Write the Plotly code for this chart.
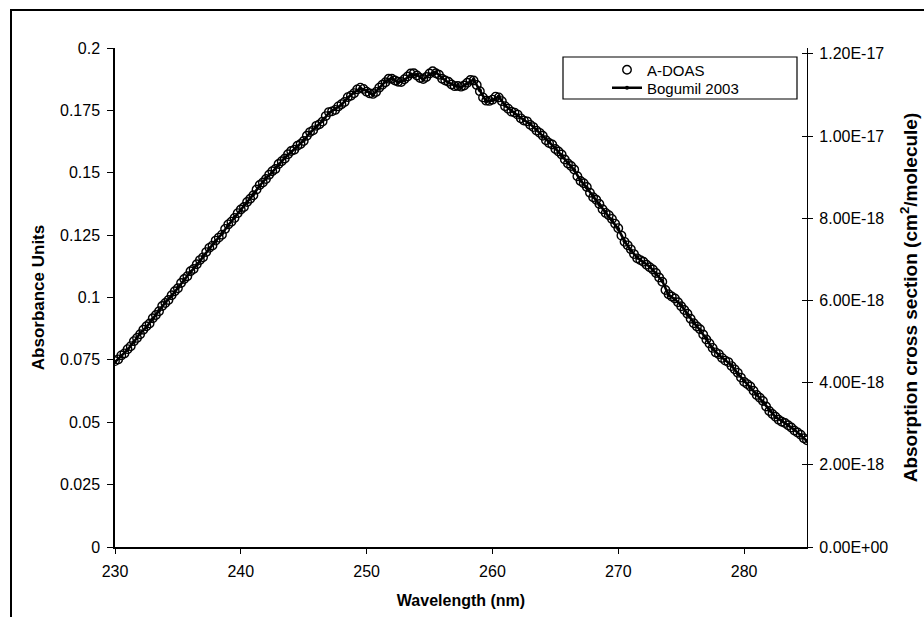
import numpy as np
import plotly.graph_objects as go

# A-DOAS measured absorbance, sampled every 0.25 nm from 230 to 285 nm
ADOAS_START, ADOAS_STEP = 230.0, 0.25
adoas_absorbance = [
    0.0745, 0.0752, 0.0768, 0.0776, 0.0793, 0.0805, 0.0825, 0.0838, 0.0853, 0.0871,
    0.0885, 0.0896, 0.0917, 0.0930, 0.0945, 0.0966, 0.0978, 0.0990, 0.1009, 0.1025,
    0.1037, 0.1058, 0.1074, 0.1085, 0.1105, 0.1114, 0.1133, 0.1150, 0.1161, 0.1182,
    0.1199, 0.1208, 0.1228, 0.1240, 0.1252, 0.1275, 0.1293, 0.1304, 0.1319, 0.1338,
    0.1353, 0.1363, 0.1383, 0.1396, 0.1410, 0.1433, 0.1451, 0.1461, 0.1475, 0.1492,
    0.1506, 0.1515, 0.1535, 0.1546, 0.1557, 0.1574, 0.1587, 0.1592, 0.1608, 0.1615,
    0.1627, 0.1648, 0.1663, 0.1670, 0.1688, 0.1694, 0.1705, 0.1727, 0.1743, 0.1746,
    0.1752, 0.1766, 0.1775, 0.1784, 0.1803, 0.1809, 0.1819, 0.1834, 0.1841, 0.1836,
    0.1825, 0.1818, 0.1816, 0.1824, 0.1841, 0.1853, 0.1863, 0.1877, 0.1877, 0.1870,
    0.1865, 0.1864, 0.1875, 0.1886, 0.1898, 0.1899, 0.1890, 0.1880, 0.1876, 0.1884,
    0.1898, 0.1907, 0.1899, 0.1893, 0.1877, 0.1870, 0.1865, 0.1854, 0.1847, 0.1848,
    0.1845, 0.1850, 0.1861, 0.1872, 0.1870, 0.1852, 0.1827, 0.1802, 0.1789, 0.1788,
    0.1793, 0.1805, 0.1802, 0.1787, 0.1767, 0.1757, 0.1745, 0.1741, 0.1733, 0.1718,
    0.1709, 0.1706, 0.1692, 0.1683, 0.1669, 0.1660, 0.1648, 0.1630, 0.1619, 0.1613,
    0.1595, 0.1585, 0.1573, 0.1553, 0.1537, 0.1527, 0.1513, 0.1486, 0.1467, 0.1458,
    0.1443, 0.1420, 0.1402, 0.1392, 0.1375, 0.1354, 0.1339, 0.1330, 0.1315, 0.1296,
    0.1278, 0.1248, 0.1223, 0.1209, 0.1193, 0.1174, 0.1157, 0.1150, 0.1143, 0.1131,
    0.1121, 0.1112, 0.1098, 0.1080, 0.1063, 0.1030, 0.1013, 0.1004, 0.0996, 0.0981,
    0.0965, 0.0950, 0.0935, 0.0915, 0.0897, 0.0884, 0.0873, 0.0852, 0.0832, 0.0816,
    0.0798, 0.0780, 0.0773, 0.0758, 0.0747, 0.0741, 0.0725, 0.0712, 0.0698, 0.0679,
    0.0662, 0.0653, 0.0643, 0.0626, 0.0609, 0.0598, 0.0585, 0.0563, 0.0545, 0.0533,
    0.0522, 0.0510, 0.0502, 0.0497, 0.0488, 0.0479, 0.0467, 0.0459, 0.0450, 0.0436,
    0.0428,
]

# Bogumil et al. (2003) reference cross section, in units of 1e-18 cm^2/molecule, every 0.5 nm
BOGUMIL_START, BOGUMIL_STEP = 230.0, 0.5
bogumil_xsec_1e18 = [
    4.50, 4.64, 4.80, 4.99, 5.20, 5.35, 5.55, 5.75, 5.95, 6.11,
    6.31, 6.51, 6.69, 6.86, 7.07, 7.26, 7.44, 7.62, 7.83, 8.02,
    8.19, 8.38, 8.58, 8.79, 8.97, 9.12, 9.30, 9.47, 9.61, 9.74,
    9.89, 10.08, 10.23, 10.37, 10.56, 10.65, 10.76, 10.93, 11.06, 11.16,
    11.10, 11.00, 11.16, 11.33, 11.41, 11.30, 11.36, 11.50, 11.49, 11.37,
    11.50, 11.55, 11.41, 11.30, 11.23, 11.18, 11.28, 11.37, 11.11, 10.84,
    10.87, 10.96, 10.74, 10.61, 10.50, 10.39, 10.29, 10.15, 9.99, 9.85,
    9.70, 9.53, 9.35, 9.17, 8.92, 8.74, 8.53, 8.33, 8.15, 7.96,
    7.74, 7.44, 7.22, 7.04, 6.92, 6.82, 6.65, 6.47, 6.13, 6.03,
    5.88, 5.66, 5.46, 5.28, 5.07, 4.83, 4.67, 4.55, 4.42, 4.22,
    4.04, 3.88, 3.71, 3.53, 3.33, 3.16, 3.07, 2.97, 2.85, 2.72,
    2.58,
]

# Axis ticks
x_ticks = [230, 240, 250, 260, 270, 280]
left_ticks = [0, 0.025, 0.05, 0.075, 0.1, 0.125, 0.15, 0.175, 0.2]
left_tick_text = ["0", "0.025", "0.05", "0.075", "0.1", "0.125", "0.15", "0.175", "0.2"]
right_ticks = [0, 2e-18, 4e-18, 6e-18, 8e-18, 1e-17, 1.2e-17]
right_tick_text = ["0.00E+00", "2.00E-18", "4.00E-18", "6.00E-18", "8.00E-18", "1.00E-17", "1.20E-17"]

X_RANGE = [230, 285]
LEFT_RANGE = [0, 0.2]
RIGHT_RANGE = [0, 1.2141e-17]

adoas_wl = ADOAS_START + ADOAS_STEP * np.arange(len(adoas_absorbance))
bogumil_wl = BOGUMIL_START + BOGUMIL_STEP * np.arange(len(bogumil_xsec_1e18))
bogumil_xsec = np.array(bogumil_xsec_1e18) * 1e-18

FONT = "Liberation Sans, Arial, sans-serif"

# plot area in pixels (for placing the legend frame and outer border)
L, R, T, B = 115, 807, 48, 547
PW, PH = R - L, B - T


def px_x(x):
    return (x - L) / PW


def px_y(y):
    return (B - y) / PH


fig = go.Figure()
fig.add_trace(go.Scatter(
    x=adoas_wl, y=adoas_absorbance, mode="markers", name="A-DOAS",
    marker=dict(symbol="circle-open", size=8.5, color="black",
                line=dict(color="black", width=1.4)),
    yaxis="y", legend="legend",
))
fig.add_trace(go.Scatter(
    x=bogumil_wl, y=bogumil_xsec, mode="lines+markers", name="Bogumil 2003",
    line=dict(color="black", width=2.6),
    marker=dict(symbol="circle", size=4, color="black"),
    yaxis="y2", legend="legend2",
))
# carries the inner half of the crossing tick marks on the right axis
fig.add_trace(go.Scatter(x=[None], y=[None], yaxis="y3", showlegend=False, hoverinfo="skip"))

legend_common = dict(xanchor="left", yanchor="middle", bgcolor="rgba(0,0,0,0)",
                     borderwidth=0, font=dict(size=15), itemwidth=30)

fig.update_layout(
    width=924, height=617,
    margin=dict(l=L, r=924 - R, t=T, b=617 - B, autoexpand=False),
    paper_bgcolor="white", plot_bgcolor="white",
    font=dict(family=FONT, size=16, color="black"),
    showlegend=True,
    legend=dict(x=px_x(607), y=px_y(70), **legend_common),
    legend2=dict(x=px_x(607), y=px_y(88), **legend_common),
    xaxis=dict(
        range=X_RANGE, tickvals=x_ticks, ticks="outside", ticklen=5,
        tickcolor="black", showline=True, linecolor="black", linewidth=2,
        showgrid=False, zeroline=False, ticklabelstandoff=4, automargin=False,
        title=dict(text="<b>Wavelength (nm)</b>", font=dict(size=16), standoff=16),
    ),
    yaxis=dict(
        range=LEFT_RANGE, tickvals=left_ticks, ticktext=left_tick_text,
        ticks="outside", ticklen=6, tickcolor="black",
        showline=True, linecolor="black", linewidth=1.5,
        showgrid=False, zeroline=False, ticklabelstandoff=4, automargin=False,
        title=dict(text="<b>Absorbance Units</b>", font=dict(size=17), standoff=11),
    ),
    yaxis2=dict(
        range=RIGHT_RANGE, tickvals=right_ticks, ticktext=right_tick_text,
        overlaying="y", side="right", anchor="x",
        ticks="outside", ticklen=5, tickcolor="black",
        showline=True, linecolor="black", linewidth=1.2,
        showgrid=False, zeroline=False, ticklabelstandoff=3, automargin=False,
        title=dict(text="<b>Absorption cross section (cm<sup>2</sup>/molecule)</b>",
                   font=dict(size=19), standoff=16),
    ),
    yaxis3=dict(
        range=RIGHT_RANGE, tickvals=right_ticks, overlaying="y", side="right",
        anchor="x", ticks="inside", ticklen=5, tickcolor="black", automargin=False,
        showticklabels=False, showline=False, showgrid=False, zeroline=False,
    ),
)

# legend frame
fig.add_shape(type="rect", xref="paper", yref="paper",
              x0=px_x(563), x1=px_x(797), y0=px_y(99), y1=px_y(57),
              line=dict(color="black", width=1.2), fillcolor="rgba(0,0,0,0)")

# outer chart frame
fig.add_shape(type="rect", xref="paper", yref="paper",
              x0=px_x(11), x1=px_x(940), y0=px_y(640), y1=px_y(10),
              line=dict(color="black", width=2), fillcolor="rgba(0,0,0,0)")

fig.write_html("out.html")
